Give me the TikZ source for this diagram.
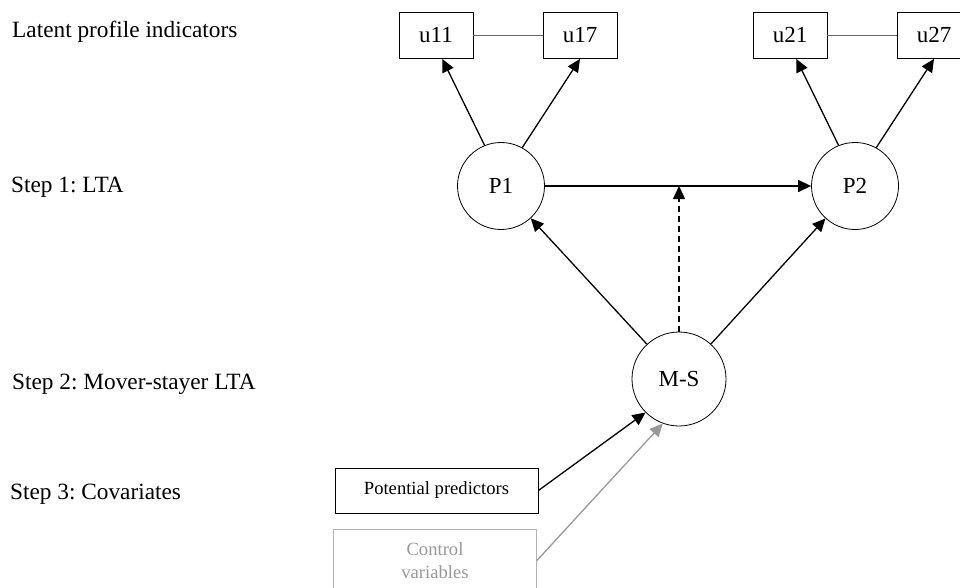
\documentclass[tikz,border=0pt]{standalone}
\usepackage{fontspec}
\setmainfont{Liberation Serif}
\usetikzlibrary{arrows.meta}
\frenchspacing

\begin{document}
\begin{tikzpicture}[x=1pt,y=-1pt,>={Triangle[length=13pt,width=12pt]},
  lbl/.style={anchor=west,inner sep=0,font=\fontsize{23.3}{28}\selectfont},
  ind/.style={draw,line width=0.8pt,minimum width=74pt,minimum height=46pt,inner sep=0,font=\fontsize{23}{28}\selectfont},
  latent/.style={draw,circle,line width=0.8pt,minimum size=87pt,inner sep=0,font=\fontsize{23}{28}\selectfont},
  cov/.style={draw,line width=0.8pt,minimum width=203pt,inner sep=0,align=center,font=\fontsize{18.6}{23}\selectfont},
  eff/.style={->,line width=1.3pt}]

\useasboundingbox (0,0) rectangle (960,588);

\def \ty {186} % row of the latent profiles
\def \uy {35.5}

% step labels
\node[lbl] (lpi) at (12,32) {Latent profile indicators};
\node[lbl] (st1) at (11,187) {Step 1: LTA};
\node[lbl] (st2) at (12,384) {Step 2: Mover-stayer LTA};
\node[lbl] (st3) at (10,494) {Step 3: Covariates};

% profiles and their indicators
\foreach \t/\x in {1/501, 2/855}
{
  \node[latent] (P\t) at (\x,\ty) {P\t};
  \node[ind] (u\t1) at (\x-65,\uy) {u\t1};
  \node[ind] (u\t7) at (\x+79,\uy) {u\t7};
  \draw[black!60,line width=0.8pt] (u\t1) -- (u\t7);
  \draw[eff] (P\t.112) -- (u\t1.285);
  \draw[eff] (P\t.61) -- (u\t7.south);
}

\node[latent,minimum size=94pt] (MS) at (679,379) {M-S};

\draw[eff] (P1) -- (P2);
\draw[eff] (MS) -- (P1);
\draw[eff] (MS) -- (P2);
\draw[eff,dash pattern=on 6pt off 4pt] (MS) -- (MS |- P1);

% covariates
\node[cov,minimum height=45pt] (pred) at (436.5,490.5) {Potential predictors};
\node[cov,draw=black!30,text=black!40,minimum height=63pt] (ctrl) at (435,560.5) {Control\\variables};
\draw[eff] (pred.east) -- (MS.225);
\draw[eff,black!40] (ctrl.east) -- (MS.250);

\end{tikzpicture}
\end{document}
